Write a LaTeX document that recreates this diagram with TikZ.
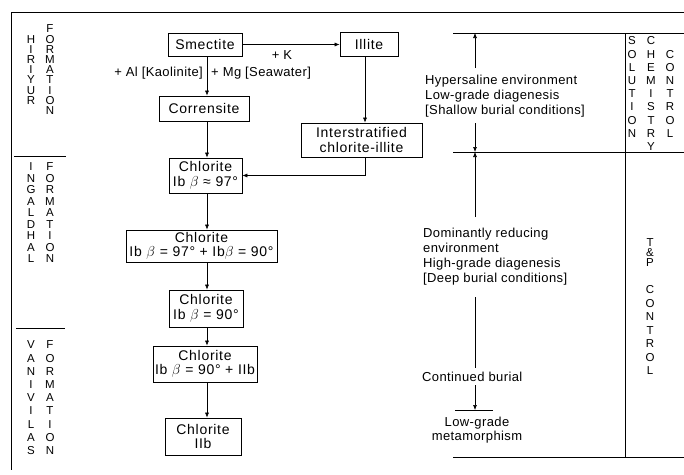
\documentclass[tikz,border=0pt]{standalone}
\usepackage{fontspec}
\setmainfont{Liberation Sans}
\newfontfamily\boxf{Liberation Sans}[LetterSpace=5]
\newfontfamily\txtf{Liberation Sans}[LetterSpace=3]
\usetikzlibrary{arrows.meta}
\begin{document}
\begin{tikzpicture}[x=1pt,y=-1pt,
  box/.style={draw, line width=0.7pt, align=center, inner sep=0pt, font=\boxf\fontsize{14}{14.5}\selectfont},
  lab/.style={font=\txtf\fontsize{13}{14}\selectfont, inner sep=0pt},
  txt/.style={font=\txtf\fontsize{13}{15}\selectfont, align=left, inner sep=0pt, anchor=west},
  ltr/.style={font=\fontsize{11.5}{12}\selectfont, inner sep=0pt},
  arr/.style={-{Latex[length=5pt,width=4pt]}, line width=0.6pt},
  ln/.style={line width=0.7pt}]
\useasboundingbox (0,0) rectangle (684,474);
% frame
\draw[ln] (11,12) -- (684,12);
\draw[ln] (11,12) -- (11,470);
\draw[ln] (14,156) -- (66,156);
\draw[ln] (16,328) -- (65,328);
% left letter columns
\foreach \l [count=\i] in {H,I,R,I,Y,U,R} \node[ltr] (hi\i) at (31,{29+\i*10.2}) {\l};
\foreach \l [count=\i] in {F,O,R,M,A,T,I,O,N} \node[ltr] (hf\i) at (50,{29+(\i-1)*10.2}) {\l};
\foreach \l [count=\i] in {I,N,G,A,L,D,H,A,L} \node[ltr] (in\i) at (31,{167+(\i-1)*11.5}) {\l};
\foreach \l [count=\i] in {F,O,R,M,A,T,I,O,N} \node[ltr] (if\i) at (50,{167+(\i-1)*11.5}) {\l};
\foreach \l [count=\i] in {V,A,N,I,V,I,L,A,S} \node[ltr] (va\i) at (31,{345+(\i-1)*13.2}) {\l};
\foreach \l [count=\i] in {F,O,R,M,A,T,I,O,N} \node[ltr] (vf\i) at (50,{345+(\i-1)*13.2}) {\l};
% boxes
\node[box, minimum width=74pt, minimum height=23pt] (sme) at (205,44.5) {Smectite};
\node[box, minimum width=58pt, minimum height=24pt] (ill) at (369,44.5) {Illite};
\node[box, minimum width=90pt, minimum height=25pt] (cor) at (204,108.5) {Corrensite};
\node[box, minimum width=121pt, minimum height=34pt] (int) at (361.5,140) {Interstratified\\chlorite-illite};
\node[box, minimum width=73pt, minimum height=35pt] (ch1) at (205.5,175.5) {Chlorite\\Ib $\beta$ ≈ 97°};
\node[box, minimum width=151pt, minimum height=32pt] (ch2) at (201.5,246) {Chlorite\\Ib $\beta$ = 97° + Ib$\beta$ = 90°};
\node[box, minimum width=74pt, minimum height=37pt] (ch3) at (206,308.5) {Chlorite\\Ib $\beta$ = 90°};
\node[box, minimum width=104pt, minimum height=36pt] (ch4) at (205,364) {Chlorite\\Ib $\beta$ = 90° + IIb};
\node[box, minimum width=76pt, minimum height=37pt] (ch5) at (203,436.5) {Chlorite\\IIb};
% labels
\node[lab] (k) at (282,55) {+ K};
\node[lab, anchor=east] (al) at (203,73) {+ Al [Kaolinite]};
\node[lab, anchor=west] (mg) at (211,73) {+ Mg [Seawater]};
% connectors
\coordinate (vx) at (207,0);
\draw[arr] (sme) -- (ill);
\draw[arr] (sme.south -| vx) -- (cor.north -| vx);
\draw[arr] (cor.south -| vx) -- (ch1.north -| vx);
\draw[arr] (ch1.south -| vx) -- (ch2.north -| vx);
\draw[arr] (ch2.south -| vx) -- (ch3.north -| vx);
\draw[arr] (ch3.south -| vx) -- (ch4.north -| vx);
\draw[arr] (ch4.south -| vx) -- (ch5.north -| vx);
\draw[arr] ([xshift=-4pt]ill.south) -- ([xshift=-4pt]ill.south |- int.north);
\draw[arr] ([xshift=3.5pt]int.south) |- (ch1.east);
% right side
\draw[ln] (453,33) -- (684,33);
\draw[ln] (453,152) -- (684,152);
\draw[ln] (453,457) -- (684,457);
\draw[ln] (625,33) -- (625,457);
\node[txt] (hyp) at (425,96) {Hypersaline environment\\Low-grade diagenesis\\{[}Shallow burial conditions]};
\node[txt] (dom) at (423,257) {Dominantly reducing\\environment\\High-grade diagenesis\\{[}Deep burial conditions]};
\node[txt] (con) at (422,377) {Continued burial};
\node[lab, align=center] (low) at (477,430) {Low-grade\\metamorphism};
\coordinate (t0) at (475,33);
\coordinate (t1) at (475,68);
\coordinate (t2) at (475,123);
\coordinate (m0) at (475,152);
\coordinate (t3) at (475,217);
\coordinate (t4) at (475,297);
\coordinate (t5) at (475,368);
\coordinate (t6) at (475,385);
\coordinate (b0) at (475,410);
\coordinate (bl) at (455,410);
\coordinate (br) at (493,410);
\draw[arr] (t1) -- (t0);
\draw[arr] (t2) -- (m0);
\draw[arr] (t3) -- (m0);
\draw[line width=0.6pt] (t4) -- (t5);
\draw[arr] (t6) -- (b0);
\draw[ln] (bl) -- (br);
% right letter columns
\foreach \l [count=\i] in {S,O,L,U,T,I,O,N} \node[ltr] (so\i) at (632,{41+(\i-1)*13.2}) {\l};
\foreach \l [count=\i] in {C,H,E,M,I,S,T,R,Y} \node[ltr] (ce\i) at (651,{41+(\i-1)*13.2}) {\l};
\foreach \l [count=\i] in {C,O,N,T,R,O,L} \node[ltr] (cc\i) at (670,{41+\i*13.2}) {\l};
\foreach \l [count=\i] in {T,\&,P} \node[ltr] (tp\i) at (650,{243+(\i-1)*10}) {\l};
\foreach \l [count=\i] in {C,O,N,T,R,O,L} \node[ltr] (tc\i) at (650,{290+(\i-1)*13.5}) {\l};
\end{tikzpicture}
\end{document}
